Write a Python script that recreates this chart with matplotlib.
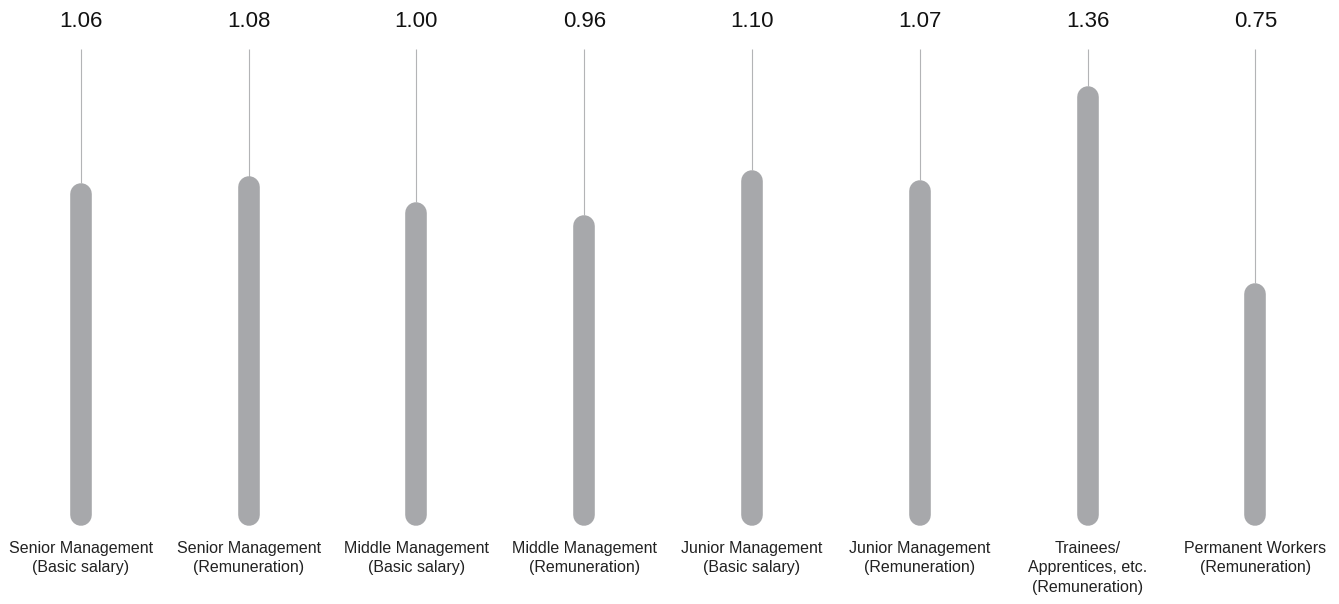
import numpy as np
import matplotlib
matplotlib.use('Agg')
import matplotlib.pyplot as plt

# Данные
categories = [
    'Senior Management\n(Basic salary)',
    'Senior Management\n(Remuneration)',
    'Middle Management\n(Basic salary)',
    'Middle Management\n(Remuneration)',
    'Junior Management\n(Basic salary)',
    'Junior Management\n(Remuneration)',
    'Trainees/\nApprentices, etc.\n(Remuneration)',
    'Permanent Workers\n(Remuneration)',
]
ratios = [1.06, 1.08, 1.00, 0.96, 1.10, 1.07, 1.36, 0.75]
value_labels = ['1.06', '1.08', '1.00', '0.96', '1.10', '1.07', '1.36', '0.75']

plt.rcParams['font.family'] = ['Liberation Sans', 'DejaVu Sans']

W, H, DPI = 1339, 604, 100
fig = plt.figure(figsize=(W / DPI, H / DPI), dpi=DPI)
ax = fig.add_axes([0, 0, 1, 1])
ax.set_xlim(-0.4815, 7.498)
ax.set_ylim(-0.2418, 1.6259)
ax.axis('off')

bar_color = '#a7a8ab'
stem_color = '#b3b4b6'
bar_px = 21.6
# полуширина бара в единицах данных (для круглых концов)
px_per_unit = H / (1.6259 + 0.2418)
r = (bar_px / 2) / px_per_unit
stem_top = 1.474

x = np.arange(len(ratios))
for i, v in enumerate(ratios):
    # тонкая линия сверху
    ax.plot([x[i], x[i]], [v, stem_top], color=stem_color, linewidth=0.8,
            solid_capstyle='butt', zorder=1)
    # бар с круглыми концами
    ax.plot([x[i], x[i]], [r, v - r], color=bar_color,
            linewidth=bar_px * 72 / DPI, solid_capstyle='round', zorder=2)
    ax.text(x[i], 1.5424, value_labels[i], ha='center', va='baseline',
            fontsize=16, color='#111111')
    ax.text(x[i], -0.047, categories[i], ha='center', va='top',
            fontsize=11.5, color='#222222', linespacing=1.36)

fig.savefig('out.png', dpi=DPI)
